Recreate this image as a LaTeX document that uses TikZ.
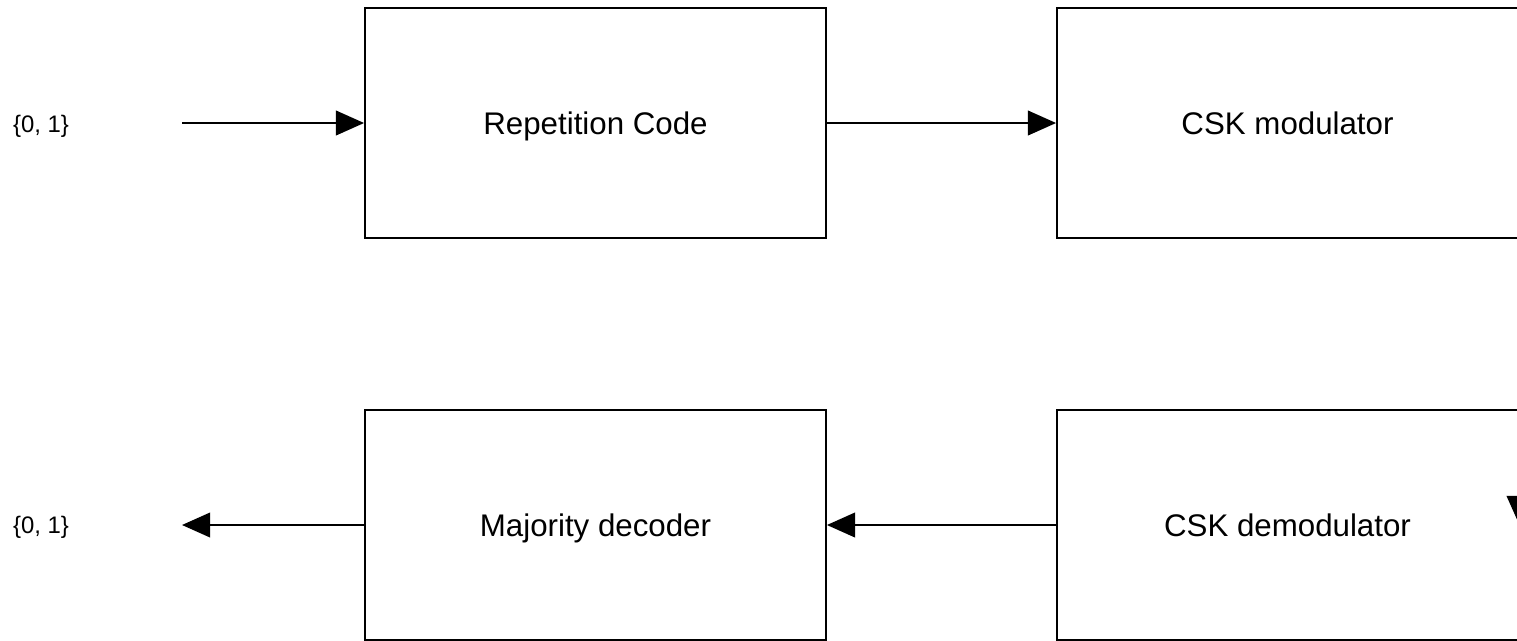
\documentclass[tikz,border=0pt]{standalone}
\usepackage{fontspec}
\setmainfont{Liberation Sans}
\usepackage{tikz}
\usetikzlibrary{arrows.meta}

\tikzset{
    block/.style={draw, line width=1.1pt, minimum width=9.22cm, minimum height=4.6cm, text height=12.7pt, text depth=0pt, font=\fontsize{17.8}{20}\selectfont},
    bits/.style={text height=9.7pt, text depth=0pt, font=\fontsize{13.6}{16}\selectfont},
    flow/.style={line width=1.1pt, -{Triangle[length=16pt,width=14pt]}}
}

\begin{document}
\begin{tikzpicture}[x=0.02cm, y=-0.02cm]
    % Page frame, cut at the right edge
    \clip (0,0) rectangle (1517,640);

    % Transmitter row
    \node[block] (rep) at (595.5,123) {Repetition Code};
    \node[block] (mod) at (1287.5,123) {CSK modulator};

    % Receiver row
    \node[block] (dec) at (595.5,525) {Majority decoder};
    \node[block] (demod) at (1287.5,525) {CSK demodulator};

    % Bit labels and loose line ends
    \node[bits] (src) at (41,124) {\{0, 1\}};
    \node[bits] (snk) at (41,525) {\{0, 1\}};
    \coordinate (in) at (182,123);
    \coordinate (out) at (182,525);
    \coordinate (chtop) at (1519,440);
    \coordinate (chbot) at (1519,524);

    % Arrows between the blocks
    \draw[flow] (in) -- (rep.west);
    \draw[flow] (rep.east) -- (mod.west);
    \draw[flow] (demod.west) -- (dec.east);
    \draw[flow] (dec.west) -- (out);
    \draw[flow] (chtop) -- (chbot);
\end{tikzpicture}
\end{document}
